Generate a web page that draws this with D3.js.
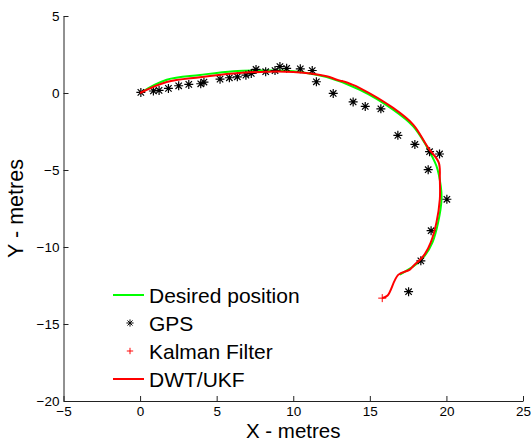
<!DOCTYPE html>
<html>
<head>
<meta charset="utf-8">
<script src="https://cdn.jsdelivr.net/npm/d3@7"></script>
<style>
  html, body { margin: 0; padding: 0; background: #fff; }
  svg { display: block; font-family: "Liberation Sans", Arial, Helvetica, sans-serif; }
</style>
</head>
<body>
<div id="chart"></div>
<script>
// trajetoria: desejada x GPS x filtro
const X_TICKS = [-5, 0, 5, 10, 15, 20, 25];
const Y_TICKS = [-20, -15, -10, -5, 0, 5];

const DESIRED_X = [0, 1.74, 3.91, 6.09, 8.26, 10.0, 12.18, 14.35, 16.52, 17.83, 18.7, 19.35, 19.63, 19.68, 19.46, 19.09, 18.59, 18.05, 17.4, 16.96];
const DESIRED_Y = [0, 0.86, 1.17, 1.42, 1.46, 1.42, 1.03, 0.21, -1.08, -2.16, -3.45, -4.74, -6.04, -6.9, -8.4, -9.7, -10.56, -11.1, -11.53, -11.79];

const GPS_X = [0.05, 0.87, 1.24, 1.85, 2.52, 3.18, 3.96, 4.17, 5.22, 5.83, 6.35, 6.91, 7.26, 7.57, 8.2, 8.81, 9.13, 9.57, 10.46, 11.24, 11.51, 12.61, 13.91, 14.7, 15.72, 16.83, 17.94, 18.9, 19.55, 18.81, 20.03, 19.0, 18.33, 17.53];
const GPS_Y = [0.04, 0.13, 0.17, 0.3, 0.47, 0.56, 0.6, 0.71, 0.9, 0.99, 1.05, 1.16, 1.27, 1.53, 1.38, 1.46, 1.72, 1.6, 1.57, 1.46, 0.73, -0.03, -0.58, -0.87, -1.03, -2.75, -3.34, -3.81, -3.96, -4.98, -6.9, -8.94, -10.9, -12.9];

const KALMAN_X = [15.81];
const KALMAN_Y = [-13.32];

const DWT_X = [0, 1.74, 3.91, 6.09, 8.26, 10.0, 12.18, 12.8, 13.3, 13.15, 13.7, 14.35, 16.52, 17.83, 18.81, 19.5, 19.57, 19.57, 19.35, 18.98, 18.59, 18.13, 18.3, 17.87, 17.61, 16.85, 16.16, 15.81];
const DWT_Y = [0, 0.71, 1.02, 1.26, 1.38, 1.36, 1.09, 0.88, 0.74, 0.8, 0.6, 0.32, -0.97, -2.05, -3.56, -4.52, -5.6, -6.9, -8.4, -9.7, -10.46, -10.98, -10.8, -11.2, -11.47, -11.81, -13.15, -13.32];

const LEGEND = [
  { label: "Desired position", kind: "line", color: "#00ff00" },
  { label: "GPS", kind: "star", color: "#000" },
  { label: "Kalman Filter", kind: "plus", color: "#ff0000" },
  { label: "DWT/UKF", kind: "line", color: "#ff0000" },
];

const W = 531;
const H = 442;
const MARGIN = { top: 16, right: 8, bottom: 41, left: 63.5 };

const svg = d3.select("#chart").append("svg").attr("width", W).attr("height", H);

const x = d3.scaleLinear().domain([-5, 25]).range([MARGIN.left, W - MARGIN.right]);
const y = d3.scaleLinear().domain([-20, 5]).range([H - MARGIN.bottom, MARGIN.top]);

const zip = (xs, ys) => xs.map((v, i) => [v, ys[i]]);
const line = d3.line().x((d) => x(d[0])).y((d) => y(d[1])).curve(d3.curveCatmullRom.alpha(0.5));

const starPath = "M-4.5,0H4.5M0,-4.5V4.5M-3.2,-3.2L3.2,3.2M-3.2,3.2L3.2,-3.2";
const plusPath = "M-4,0H4M0,-4V4";

// eixos: so esquerdo e inferior, ticks para dentro
const xAxis = svg
  .append("g")
  .attr("transform", `translate(0,${y(-20)})`)
  .call(d3.axisBottom(x).tickValues(X_TICKS).tickSizeInner(-5).tickSizeOuter(0).tickPadding(5.5));
const yAxis = svg
  .append("g")
  .attr("transform", `translate(${x(-5)},0)`)
  .call(d3.axisLeft(y).tickValues(Y_TICKS).tickSizeInner(-5).tickSizeOuter(0).tickPadding(4));

for (const g of [xAxis, yAxis]) {
  g.selectAll("path,line").attr("stroke", "#222").attr("stroke-width", 1);
  g.selectAll("text").attr("fill", "#000").attr("font-size", 13.5).attr("font-family", null);
}

svg
  .append("text")
  .attr("x", (x(-5) + x(25)) / 2)
  .attr("y", 438)
  .attr("text-anchor", "middle")
  .attr("font-size", 20.5)
  .text("X - metres");

svg
  .append("text")
  .attr("transform", `translate(23,${(y(5) + y(-20)) / 2}) rotate(-90)`)
  .attr("text-anchor", "middle")
  .attr("font-size", 21.5)
  .text("Y - metres");

const plot = svg.append("g");

plot
  .append("path")
  .attr("d", line(zip(DESIRED_X, DESIRED_Y)))
  .attr("fill", "none")
  .attr("stroke", "#00ff00")
  .attr("stroke-width", 2);

plot
  .selectAll("path.gps")
  .data(zip(GPS_X, GPS_Y))
  .join("path")
  .attr("class", "gps")
  .attr("d", starPath)
  .attr("transform", (d) => `translate(${x(d[0])},${y(d[1])})`)
  .attr("fill", "none")
  .attr("stroke", "#000")
  .attr("stroke-width", 1.2);

plot
  .selectAll("path.kf")
  .data(zip(KALMAN_X, KALMAN_Y))
  .join("path")
  .attr("class", "kf")
  .attr("d", plusPath)
  .attr("transform", (d) => `translate(${x(d[0])},${y(d[1])})`)
  .attr("fill", "none")
  .attr("stroke", "#ff0000")
  .attr("stroke-width", 1);

plot
  .append("path")
  .attr("d", line(zip(DWT_X, DWT_Y)))
  .attr("fill", "none")
  .attr("stroke", "#ff0000")
  .attr("stroke-width", 2);

// legenda sem caixa
const legend = svg.append("g").attr("transform", "translate(113,295)");
const rows = legend
  .selectAll("g")
  .data(LEGEND)
  .join("g")
  .attr("transform", (d, i) => `translate(0,${i * 28})`);

rows.each(function (d) {
  const g = d3.select(this);
  if (d.kind === "line") {
    g.append("line").attr("x1", 0).attr("x2", 31).attr("stroke", d.color).attr("stroke-width", 2);
  } else {
    g.append("path")
      .attr("d", d.kind === "star" ? starPath : plusPath)
      .attr("transform", "translate(17,0) scale(0.8)")
      .attr("fill", "none")
      .attr("stroke", d.color)
      .attr("stroke-width", 1.2);
  }
});

rows
  .append("text")
  .attr("x", 36)
  .attr("y", 7.5)
  .attr("font-size", 21)
  .text((d) => d.label);
</script>
</body>
</html>
